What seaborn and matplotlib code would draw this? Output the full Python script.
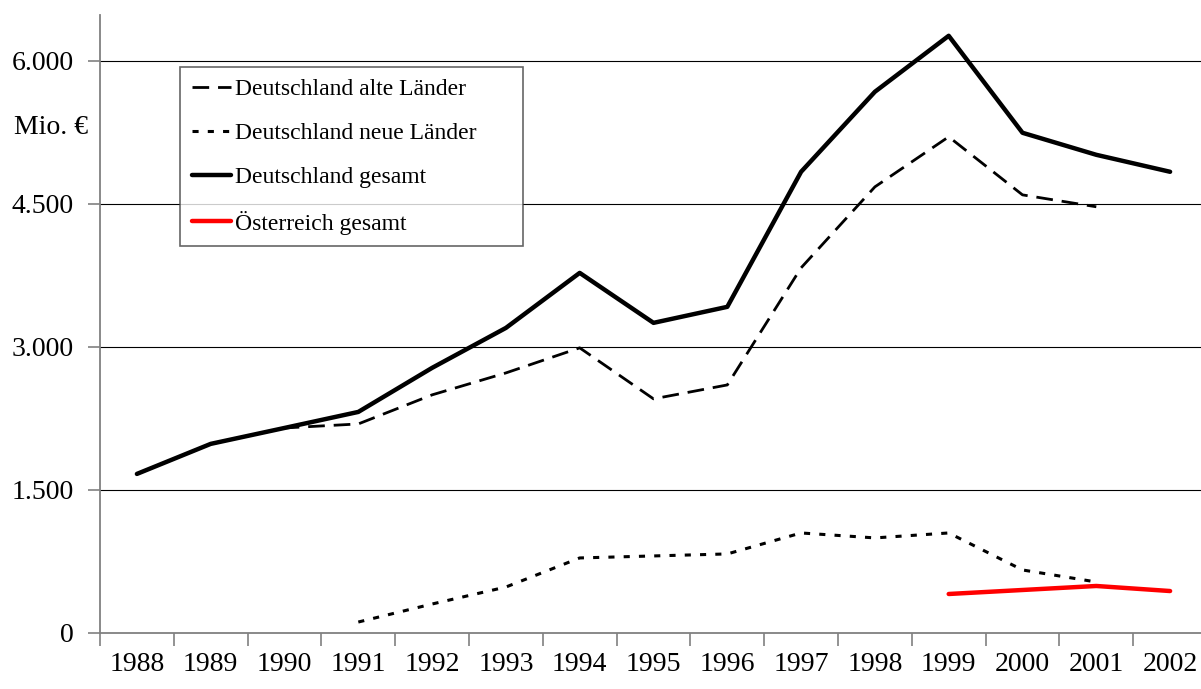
import numpy as np
import pandas as pd
import matplotlib
matplotlib.use("Agg")
import matplotlib.pyplot as plt
from matplotlib.ticker import FixedLocator, FuncFormatter
import seaborn as sns

years = list(range(1988, 2003))
# Mio. Euro
alte_laender = [1668, 1983, 2150, 2192, 2497, 2727, 2990, 2455, 2601, 3829, 4678, 5203, 4594, 4469, np.nan]
neue_laender = [np.nan, np.nan, np.nan, 115, 304, 482, 787, 808, 829, 1049, 997, 1049, 661, 535, np.nan]
de_gesamt = [1668, 1983, 2150, 2318, 2780, 3199, 3776, 3252, 3420, 4836, 5675, 6262, 5245, 5014, 4836]
at_gesamt = [np.nan] * 11 + [409, 451, 493, 440]

df = pd.DataFrame({"Jahr": years,
                   "alte": alte_laender,
                   "neue": neue_laender,
                   "gesamt": de_gesamt,
                   "at": at_gesamt})

sns.set_style("white")
plt.rcParams['font.family'] = ['Liberation Serif', 'DejaVu Serif']
plt.rcParams['text.color'] = 'black'
plt.rcParams['xtick.labelcolor'] = 'black'
plt.rcParams['ytick.labelcolor'] = 'black'

fig = plt.figure(figsize=(12.01, 6.89), dpi=100)
ax = fig.add_axes([100 / 1201, 56 / 689, 1107 / 1201, 618 / 689])

grey = "#808080"
for v in [1500, 3000, 4500, 6000]:
    ax.axhline(v, color="black", lw=0.8, zorder=1)

sns.lineplot(data=df, x="Jahr", y="alte", ax=ax, color="black", lw=2,
             label="Deutschland alte Länder", zorder=3).lines[-1].set_dashes((6, 3.2))
sns.lineplot(data=df, x="Jahr", y="neue", ax=ax, color="black", lw=2.2,
             label="Deutschland neue Länder", zorder=3).lines[-1].set_dashes((2, 3))
sns.lineplot(data=df, x="Jahr", y="gesamt", ax=ax, color="black", lw=3.2,
             label="Deutschland gesamt", zorder=4)
sns.lineplot(data=df, x="Jahr", y="at", ax=ax, color="red", lw=3.2,
             label="Österreich gesamt", zorder=4)

ax.set_xlim(1987.5, 2002.5)
ax.set_ylim(0, 6480)
ax.set_xlabel("")
ax.set_ylabel("")

ax.xaxis.set_major_locator(FixedLocator(years))
ax.xaxis.set_minor_locator(FixedLocator([y + 0.5 for y in range(1987, 2002)]))
ax.tick_params(axis="x", which="major", length=0, pad=14, labelsize=20)
ax.tick_params(axis="x", which="minor", length=9, width=1.2, color=grey, direction="out")
ax.set_yticks([0, 1500, 3000, 4500, 6000])
ax.yaxis.set_major_formatter(FuncFormatter(lambda v, p: f"{int(v):,}".replace(",", ".")))
ax.tick_params(axis="y", length=9, width=1.2, color=grey, direction="out", pad=10, labelsize=20)
ax.tick_params(bottom=True, left=True, which="both")

for s in ["top", "right"]:
    ax.spines[s].set_visible(False)
for s in ["left", "bottom"]:
    ax.spines[s].set_color(grey)
    ax.spines[s].set_linewidth(1.3)

fig.text(14 / 1201, 1 - 127 / 689, "Mio. €", fontsize=20, ha="left", va="center")

leg = ax.legend(loc="upper left", mode="expand",
                bbox_to_anchor=(180 / 1201, 1 - 243 / 689, 343 / 1201, 176 / 689),
                bbox_transform=fig.transFigure, fontsize=17, frameon=True,
                fancybox=False, edgecolor="#404040", handlelength=1.65,
                handletextpad=0.2, labelspacing=0.95, borderpad=0.5,
                borderaxespad=0)
leg.get_frame().set_linewidth(1.2)

fig.savefig("out.png", dpi=100)
